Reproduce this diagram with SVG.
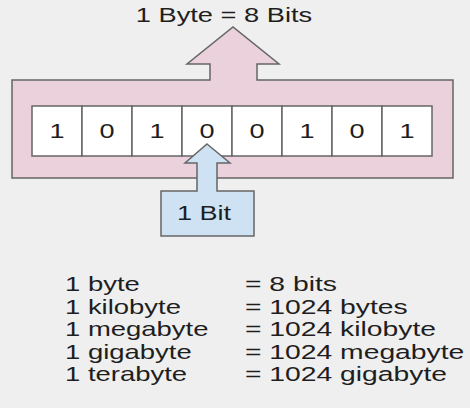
<svg xmlns="http://www.w3.org/2000/svg" width="470" height="408" viewBox="0 0 470 408">
<style>
.t{font-family:"Liberation Sans",Arial,sans-serif;font-size:20.5px;fill:#1e1e1e}
.c{text-anchor:middle}
.shape{stroke:#666;stroke-width:1.5;stroke-linejoin:miter}
.cell{fill:#fff;stroke:#666;stroke-width:1.5}
</style>
<rect width="470" height="408" fill="#efefef"/>
<g id="byte">
<polygon class="shape" fill="#ead1dc" points="12,80 210,80 210,64 187,64 233,27 279,64 257,64 257,80 453,80 453,178 12,178"/>
<text class="t c" transform="translate(224,22) scale(1.33,1)">1 Byte = 8 Bits</text>
</g>
<g id="bits">
<rect class="cell" x="32" y="106" width="50" height="50"/>
<rect class="cell" x="82" y="106" width="50" height="50"/>
<rect class="cell" x="132" y="106" width="50" height="50"/>
<rect class="cell" x="182" y="106" width="50" height="50"/>
<rect class="cell" x="232" y="106" width="50" height="50"/>
<rect class="cell" x="282" y="106" width="50" height="50"/>
<rect class="cell" x="332" y="106" width="50" height="50"/>
<rect class="cell" x="382" y="106" width="50" height="50"/>
<text class="t c" transform="translate(57,138) scale(1.32,1)">1</text>
<text class="t c" transform="translate(107,138) scale(1.32,1)">0</text>
<text class="t c" transform="translate(157,138) scale(1.32,1)">1</text>
<text class="t c" transform="translate(207,138) scale(1.32,1)">0</text>
<text class="t c" transform="translate(257,138) scale(1.32,1)">0</text>
<text class="t c" transform="translate(307,138) scale(1.32,1)">1</text>
<text class="t c" transform="translate(357,138) scale(1.32,1)">0</text>
<text class="t c" transform="translate(407,138) scale(1.32,1)">1</text>
</g>
<g id="bit">
<polygon class="shape" fill="#cfe2f3" points="207,144 230,163 217,163 217,191 254,191 254,236 161,236 161,191 197,191 197,163 185,163"/>
<text class="t c" transform="translate(204,220) scale(1.32,1)">1 Bit</text>
</g>
<g id="table">
<text class="t" transform="translate(65,291) scale(1.34,1)">1 byte</text>
<text class="t" transform="translate(65,313.5) scale(1.34,1)">1 kilobyte</text>
<text class="t" transform="translate(65,336) scale(1.34,1)">1 megabyte</text>
<text class="t" transform="translate(65,358.5) scale(1.34,1)">1 gigabyte</text>
<text class="t" transform="translate(65,381) scale(1.34,1)">1 terabyte</text>
<text class="t" transform="translate(245,291) scale(1.38,1)">= 8 bits</text>
<text class="t" transform="translate(245,313.5) scale(1.38,1)">= 1024 bytes</text>
<text class="t" transform="translate(245,336) scale(1.38,1)">= 1024 kilobyte</text>
<text class="t" transform="translate(245,358.5) scale(1.38,1)">= 1024 megabyte</text>
<text class="t" transform="translate(245,381) scale(1.38,1)">= 1024 gigabyte</text>
</g>
</svg>
